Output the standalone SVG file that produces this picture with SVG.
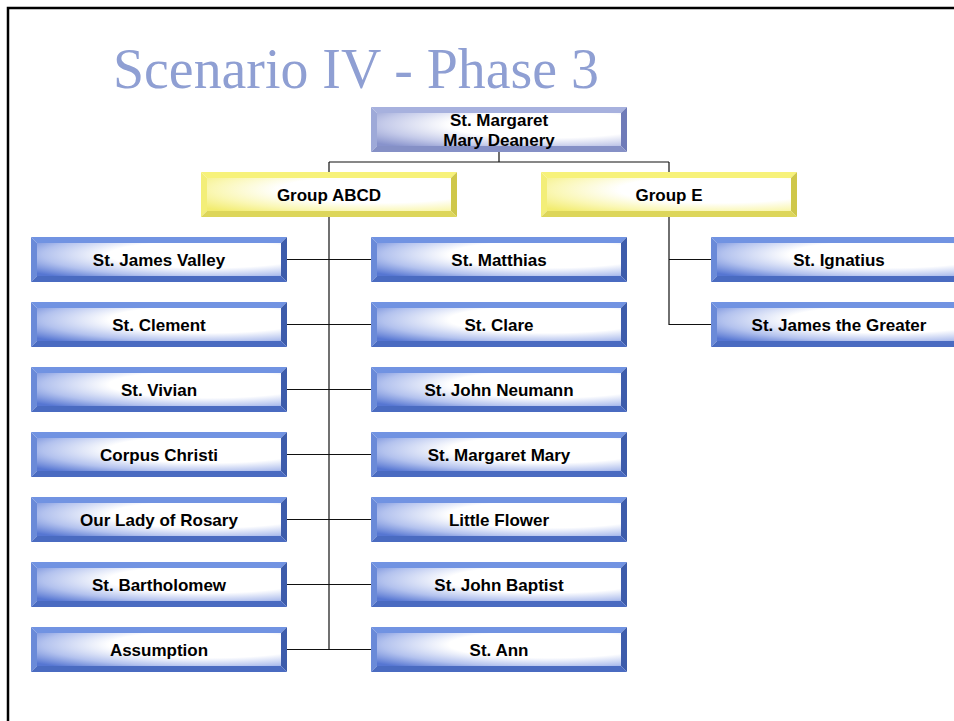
<svg xmlns="http://www.w3.org/2000/svg" width="954" height="721" viewBox="0 0 954 721">
<defs>
<style>
.t{font-family:"Liberation Sans",Arial,sans-serif;font-weight:bold;font-size:17px;fill:#000;text-anchor:middle}
.c{fill:none;stroke:#111;stroke-width:1.2}
.bt{fill:#7193e2}.bl{fill:#6a8ad8}.br{fill:#3d5cab}.bb{fill:#4a6bc1}
.yt{fill:#f7f27a}.yl{fill:#f3ee78}.yr{fill:#cfc74a}.yb{fill:#ddd65a}
.lt{fill:#a7b1de}.ll{fill:#9ea9d8}.lr{fill:#6f7bb8}.lb{fill:#8590c6}
</style>
<radialGradient id="gb" cx="0.7" cy="0.35" r="0.9" fx="0.7" fy="0.35">
<stop offset="0" stop-color="#ffffff"/><stop offset="0.45" stop-color="#ffffff"/><stop offset="0.75" stop-color="#b3c2ee"/><stop offset="1" stop-color="#5676d2"/>
</radialGradient>
<radialGradient id="gy" cx="0.7" cy="0.35" r="0.9" fx="0.7" fy="0.35">
<stop offset="0" stop-color="#ffffff"/><stop offset="0.45" stop-color="#ffffff"/><stop offset="0.75" stop-color="#faf7b4"/><stop offset="1" stop-color="#f2ec70"/>
</radialGradient>
<radialGradient id="gl" cx="0.7" cy="0.35" r="0.9" fx="0.7" fy="0.35">
<stop offset="0" stop-color="#ffffff"/><stop offset="0.45" stop-color="#ffffff"/><stop offset="0.75" stop-color="#c4cae9"/><stop offset="1" stop-color="#8893cc"/>
</radialGradient>
<g id="bevB">
<polygon class="bt" points="0,0 256,0 250,6 6,6"/>
<polygon class="bl" points="0,0 6,6 6,39 0,45"/>
<polygon class="br" points="256,0 256,45 250,39 250,6"/>
<polygon class="bb" points="0,45 6,39 250,39 256,45"/>
<rect x="6" y="6" width="244" height="33" fill="url(#gb)"/>
</g>
<g id="bevY">
<polygon class="yt" points="0,0 256,0 250,6 6,6"/>
<polygon class="yl" points="0,0 6,6 6,39 0,45"/>
<polygon class="yr" points="256,0 256,45 250,39 250,6"/>
<polygon class="yb" points="0,45 6,39 250,39 256,45"/>
<rect x="6" y="6" width="244" height="33" fill="url(#gy)"/>
</g>
<g id="bevL">
<polygon class="lt" points="0,0 256,0 250,6 6,6"/>
<polygon class="ll" points="0,0 6,6 6,39 0,45"/>
<polygon class="lr" points="256,0 256,45 250,39 250,6"/>
<polygon class="lb" points="0,45 6,39 250,39 256,45"/>
<rect x="6" y="6" width="244" height="33" fill="url(#gl)"/>
</g>
</defs>
<rect width="954" height="721" fill="#fff"/>
<path d="M8 721 V8 H954" fill="none" stroke="#000" stroke-width="2.5"/>
<text x="113" y="88" font-family="'Liberation Serif','Times New Roman',serif" font-size="58" fill="#8f9fd3" textLength="486" lengthAdjust="spacingAndGlyphs">Scenario IV - Phase 3</text>

<g id="connectors">
<path class="c" d="M499 152 V162 M329 162 H669 M329 162 V172 M669 162 V172"/>
<path class="c" d="M329 217 V650" stroke-width="1.8"/>
<path class="c" d="M287 259.5 H371 M287 324.5 H371 M287 389.5 H371 M287 454.5 H371 M287 519.5 H371 M287 584.5 H371 M287 649.5 H371"/>
<path class="c" d="M669 217 V324.5 H711 M669 259.5 H711"/>
</g>

<g id="n-deanery"><use href="#bevL" x="371" y="107"/><text class="t" x="499" y="126">St. Margaret</text><text class="t" x="499" y="146">Mary Deanery</text></g>
<g id="n-abcd"><use href="#bevY" x="201" y="172"/><text class="t" x="329" y="201">Group ABCD</text></g>
<g id="n-e"><use href="#bevY" x="541" y="172"/><text class="t" x="669" y="201">Group E</text></g>

<g id="n-james-valley"><use href="#bevB" x="31" y="237"/><text class="t" x="159" y="266">St. James Valley</text></g>
<g id="n-clement"><use href="#bevB" x="31" y="302"/><text class="t" x="159" y="331">St. Clement</text></g>
<g id="n-vivian"><use href="#bevB" x="31" y="367"/><text class="t" x="159" y="396">St. Vivian</text></g>
<g id="n-corpus"><use href="#bevB" x="31" y="432"/><text class="t" x="159" y="461">Corpus Christi</text></g>
<g id="n-rosary"><use href="#bevB" x="31" y="497"/><text class="t" x="159" y="526">Our Lady of Rosary</text></g>
<g id="n-bartholomew"><use href="#bevB" x="31" y="562"/><text class="t" x="159" y="591">St. Bartholomew</text></g>
<g id="n-assumption"><use href="#bevB" x="31" y="627"/><text class="t" x="159" y="656">Assumption</text></g>

<g id="n-matthias"><use href="#bevB" x="371" y="237"/><text class="t" x="499" y="266">St. Matthias</text></g>
<g id="n-clare"><use href="#bevB" x="371" y="302"/><text class="t" x="499" y="331">St. Clare</text></g>
<g id="n-neumann"><use href="#bevB" x="371" y="367"/><text class="t" x="499" y="396">St. John Neumann</text></g>
<g id="n-margaret-mary"><use href="#bevB" x="371" y="432"/><text class="t" x="499" y="461">St. Margaret Mary</text></g>
<g id="n-little-flower"><use href="#bevB" x="371" y="497"/><text class="t" x="499" y="526">Little Flower</text></g>
<g id="n-john-baptist"><use href="#bevB" x="371" y="562"/><text class="t" x="499" y="591">St. John Baptist</text></g>
<g id="n-ann"><use href="#bevB" x="371" y="627"/><text class="t" x="499" y="656">St. Ann</text></g>

<g id="n-ignatius"><use href="#bevB" x="711" y="237"/><text class="t" x="839" y="266">St. Ignatius</text></g>
<g id="n-james-greater"><use href="#bevB" x="711" y="302"/><text class="t" x="839" y="331">St. James the Greater</text></g>
</svg>
